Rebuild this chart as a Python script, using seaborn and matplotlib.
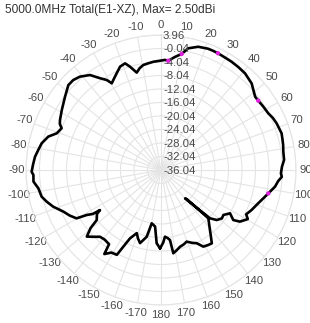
import numpy as np
import pandas as pd
import matplotlib
matplotlib.use("Agg")
import matplotlib.pyplot as plt
from matplotlib.transforms import offset_copy
import seaborn as sns

# pattern: angle (deg, clockwise from top) and gain (dBi), in drawing order
angle_deg = [-179.3, -176.6, -174.0, -170.1, -167.9, -164.0, -161.5, -159.0, -155.6, -153.8,
             -152.5, -149.0, -146.0, -145.0, -141.0, -137.6, -134.5, -131.9, -129.5, -127.9,
             -124.5, -123.3, -122.8, -121.2, -119.8, -116.5, -113.1, -108.8, -105.5, -102.6,
             -98.5, -95.2, -92.2, -90.8, -87.5, -84.0, -80.7, -77.4, -73.5, -70.6,
             -67.2, -65.5, -63.7, -58.9, -52.6, -47.5, -44.3, -41.0, -36.8, -33.6,
             -31.1, -29.6, -27.0, -24.6, -21.6, -18.6, -16.7, -14.0, -11.8, -9.6,
             -6.8, -4.1, -1.0, 2.1, 3.8, 7.0, 10.1, 12.6, 16.8, 21.2,
             23.5, 26.0, 29.5, 33.1, 37.0, 41.0, 46.3, 49.0, 52.1, 54.5,
             58.0, 62.1, 65.0, 68.0, 73.1, 75.5, 78.4, 81.5, 85.3, 88.5,
             91.6, 93.2, 95.5, 98.3, 102.3, 105.5, 108.9, 113.8, 117.5, 119.5,
             123.2, 124.7, 122.1, 125.8, 128.5, 131.9, 134.6, 139.7, 138.5, 135.6,
             140.8, 143.0, 145.3, 148.0, 151.1, 154.0, 157.0, 160.3, 163.0, 166.1,
             169.0, 171.6, 172.7, 174.5, 176.6, 178.3]
gain_db = [-12.8, -14.3, -19.2, -20.0, -15.8, -13.5, -14.6, -16.0, -13.8, -10.7,
           -7.7, -7.5, -6.0, -9.2, -9.5, -9.25, -7.8, -6.5, -9.0, -11.9,
           -13.0, -14.4, -12.0, -10.3, -7.2, -5.8, -4.6, -2.3, -0.9, 0.2,
           0.7, 1.9, 1.8, 2.3, 1.9, 1.5, 0.8, 0.2, -1.2, -3.3,
           -4.1, -3.1, -2.65, -1.7, -0.25, 1.2, 1.2, 0.6, -0.9, -3.4,
           -4.9, -6.5, -5.5, -4.5, -3.1, -2.7, -4.1, -6.3, -5.2, -4.5,
           -4.2, -3.9, -3.7, -3.4, -3.6, -2.3, -1.1, 0.9, 2.1, 2.5,
           2.5, 2.45, 2.3, 2.25, 2.1, 1.9, 1.1, 0.2, -0.7, -0.65,
           -0.4, -0.1, 0.5, 0.9, 1.3, 1.1, 0.9, 0.6, 0.55, -0.2,
           -0.5, -0.2, -1.2, -1.9, -3.5, -4.6, -5.6, -6.7, -7.6, -6.5,
           -8.1, -10.0, -11.9, -13.25, -13.0, -13.85, -15.65, -25.0, -24.5, -16.0,
           -13.1, -11.5, -9.6, -9.8, -10.1, -11.9, -12.6, -13.5, -13.0, -12.6,
           -11.8, -11.1, -15.1, -15.8, -16.25, -14.5]

# magenta markers
marker_deg = [3.8, 10.1, 26.0, 54.5, 102.3]
marker_db = [-3.6, -1.1, 2.45, -0.65, -3.5]

r_ticks = [3.96, -0.04, -4.04, -8.04, -12.04, -16.04, -20.04, -24.04, -28.04, -32.04, -36.04]
theta_ticks = list(range(0, 360, 10))
theta_labels = [str(a if a <= 180 else a - 360) for a in theta_ticks]

sns.set_style("white")
plt.rcParams["font.family"] = ["Liberation Sans", "DejaVu Sans"]

df = pd.DataFrame({"theta": np.deg2rad(angle_deg + angle_deg[:1]),
                   "gain": gain_db + gain_db[:1]})
mk = pd.DataFrame({"theta": np.deg2rad(marker_deg), "gain": marker_db})

fig = plt.figure(figsize=(3.10, 3.23), dpi=100)
ax = fig.add_axes([0.0839, 0.0557, 0.871, 0.836], projection="polar")
ax.set_theta_zero_location("N")
ax.set_theta_direction(-1)
ax.set_ylim(-36.04, 3.96)

grid_c = "#e4e4e4"
txt_c = "#4a4a4a"
ax.set_xticks(np.deg2rad(theta_ticks))
ax.set_xticklabels(theta_labels, fontsize=8.2, color=txt_c)
ax.tick_params(axis="x", pad=-3.5)
ax.set_yticks(r_ticks)
ax.set_yticklabels([])
ax.grid(True, color=grid_c, lw=0.8)
ax.spines["polar"].set_color(grid_c)

sns.lineplot(data=df, x="theta", y="gain", sort=False, color="black",
             lw=1.9, ax=ax, estimator=None)
sns.scatterplot(data=mk, x="theta", y="gain", color="#e020e0", s=10,
                edgecolor="none", ax=ax, zorder=5)
ax.set_xlabel("")
ax.set_ylabel("")

tr = offset_copy(ax.transData, fig=fig, x=2, y=-1, units="dots")
for r in r_ticks:
    ax.text(0, r, f"{r:.2f}", transform=tr, ha="left", va="center",
            fontsize=8.2, color=txt_c)

fig.text(5 / 310, 1 - 10 / 323, "5000.0MHz Total(E1-XZ), Max= 2.50dBi",
         ha="left", va="center", fontsize=8.6, color="#333333")

fig.savefig("out.png", dpi=100)
